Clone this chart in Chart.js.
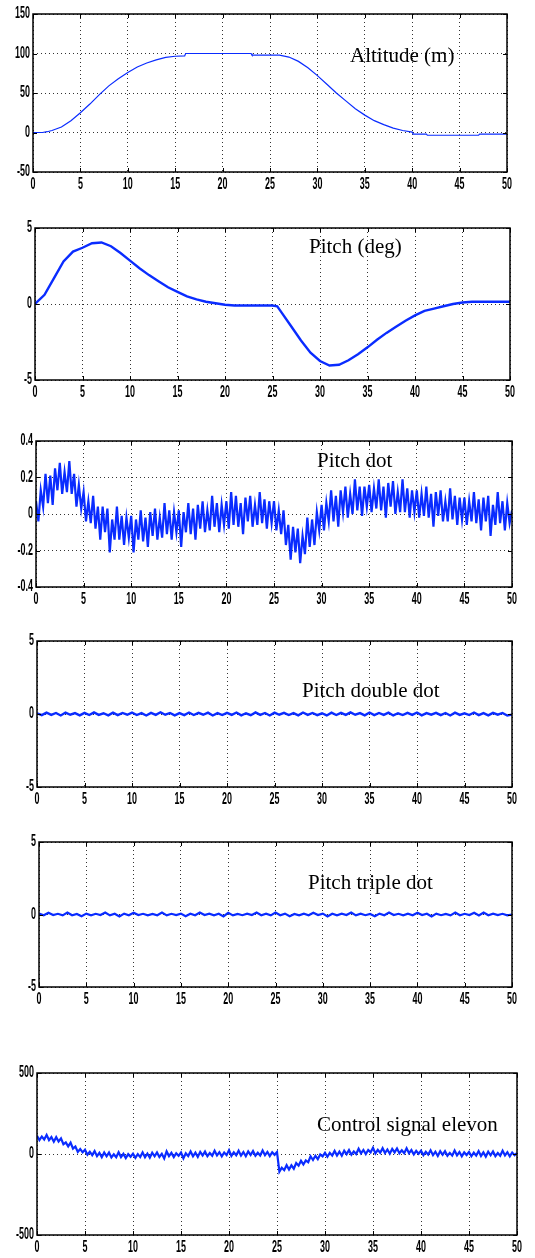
<!DOCTYPE html>
<html>
<head>
<meta charset="utf-8">
<script src="https://cdn.jsdelivr.net/npm/chart.js@4.4.1/dist/chart.umd.min.js"></script>
<style>
  html, body { margin: 0; padding: 0; background: #fff; }
  body { width: 535px; height: 1258px; position: relative; overflow: hidden; }
  canvas { position: absolute; left: 0; }
  .lbl { position: absolute; font-family: 'Liberation Serif', 'Times New Roman', serif; font-size: 21px; line-height: 24px; color: #000; white-space: nowrap; }
</style>
</head>
<body>
<canvas id="c1"></canvas>
<canvas id="c2"></canvas>
<canvas id="c3"></canvas>
<canvas id="c4"></canvas>
<canvas id="c5"></canvas>
<canvas id="c6"></canvas>
<div class="lbl" style="left:350px; top:43px;">Altitude (m)</div>
<div class="lbl" style="left:309px; top:234px;">Pitch (deg)</div>
<div class="lbl" style="left:317px; top:448px;">Pitch dot</div>
<div class="lbl" style="left:302px; top:678px;">Pitch double dot</div>
<div class="lbl" style="left:308px; top:870px;">Pitch triple dot</div>
<div class="lbl" style="left:317px; top:1112px;">Control signal elevon</div>
<script>
// --- data ---

// Altitude (m), irregular time points (s)
const altTime = [0, 1, 1.5, 2, 3, 4, 5, 6, 7, 8, 9, 10, 11, 12, 13, 14, 15, 16, 16.1, 23, 23.1, 26, 27, 28, 29, 30,
  31, 32, 33, 34, 35, 36, 37, 38, 39, 40, 40.1, 41.5, 41.6, 47, 47.1, 50];
const altitude = [0, 0, 1, 2.5, 7, 15, 25, 36, 48, 59, 68, 76, 83, 88, 92, 95, 96.5, 97, 100, 100, 98, 98, 95.5, 90, 82, 72,
  61, 50, 40, 30, 22, 15, 10, 5.5, 2.5, 0.5, -2, -2, -3.5, -3.5, -2, -2];

// Pitch (deg)
const pitchTime = [0, 1, 2, 3, 4, 5, 6, 7, 8, 9, 10, 11, 12, 13, 14, 15, 16, 17, 18, 19, 20, 21, 22, 23, 24, 25, 25.5,
  26, 27, 28, 29, 30, 31, 32, 33, 34, 35, 36, 37, 38, 39, 40, 41, 42, 43, 44, 45, 46, 47, 48, 49, 50];
const pitch = [0, 0.6, 1.7, 2.8, 3.45, 3.7, 4.0, 4.05, 3.8, 3.35, 2.85, 2.35, 1.9, 1.5, 1.1, 0.8, 0.5, 0.3, 0.15, 0.05,
  -0.05, -0.1, -0.1, -0.1, -0.1, -0.1, -0.15, -0.6, -1.5, -2.4, -3.2, -3.75, -4.05, -4.0, -3.7, -3.3, -2.85, -2.35, -1.9,
  -1.5, -1.1, -0.75, -0.45, -0.3, -0.15, 0.0, 0.1, 0.15, 0.15, 0.15, 0.15, 0.15];

// Pitch dot, sampled every 0.25 s (upper/lower swings of the noisy band)
const pitchDotStep = 0.25;
const pitchDot = [
  0.07, -0.04, 0.13, 0.04, 0.22, 0.06, 0.21, 0.05, 0.25, 0.13, 0.28, 0.11, 0.23, 0.12, 0.29, 0.11,
  0.22, 0.04, 0.16, 0.03, 0.12, -0.04, 0.07, -0.05, 0.10, -0.08, 0.04, -0.14, 0.04, -0.10, 0.03, -0.21,
  -0.03, -0.14, 0.04, -0.14, -0.01, -0.17, -0.02, -0.13, -0.01, -0.21, -0.03, -0.14, 0.02, -0.15, -0.02, -0.18,
  0.01, -0.12, 0.03, -0.14, -0.02, -0.13, 0.06, -0.11, 0.02, -0.14, 0.01, -0.10, 0.02, -0.18, 0.01, -0.10,
  0.06, -0.11, 0.03, -0.14, 0.05, -0.08, 0.07, -0.10, 0.02, -0.09, 0.10, -0.07, 0.06, -0.10, 0.05, -0.06,
  0.07, -0.08, 0.12, -0.06, 0.10, -0.07, 0.06, -0.11, 0.09, -0.04, 0.10, -0.07, 0.05, -0.06, 0.12, -0.05,
  0.08, -0.08, 0.07, -0.05, 0.07, -0.09, 0.02, -0.11, 0.02, -0.17, -0.06, -0.25, -0.07, -0.21, -0.08, -0.27,
  -0.12, -0.22, -0.02, -0.18, -0.03, -0.17, 0.01, -0.09, 0.05, -0.09, 0.06, -0.04, 0.13, -0.04, 0.10, -0.07,
  0.13, 0.01, 0.15, -0.02, 0.11, 0.00, 0.19, 0.02, 0.15, -0.01, 0.15, 0.04, 0.16, 0.01, 0.14, 0.03,
  0.19, 0.02, 0.15, -0.02, 0.17, 0.04, 0.18, 0.00, 0.12, 0.01, 0.19, 0.01, 0.14, -0.02, 0.13, 0.01,
  0.13, -0.02, 0.11, -0.01, 0.15, -0.02, 0.11, -0.07, 0.12, -0.01, 0.13, -0.04, 0.07, -0.04, 0.14, -0.03,
  0.10, -0.06, 0.09, -0.03, 0.09, -0.06, 0.07, -0.04, 0.12, -0.05, 0.08, -0.09, 0.09, -0.04, 0.10, -0.12,
  0.05, -0.06, 0.12, -0.05, 0.07, -0.09, 0.06, -0.05, 0.02
];

// Pitch double dot and triple dot, sampled every 0.5 s
const smallStep = 0.5;
const pitchDDot = [
  0.05, -0.08, 0.09, -0.06, 0.07, -0.1, 0.1, -0.05, 0.06, -0.09, 0.08, -0.07, 0.11, -0.06, 0.05, -0.09, 0.09, -0.08, 0.07, -0.05,
  0.1, -0.07, 0.06, -0.1, 0.08, -0.06, 0.12, -0.05, 0.07, -0.09, 0.06, -0.08, 0.1, -0.07, 0.08, -0.05, 0.09, -0.1, 0.06, -0.07,
  0.08, -0.06, 0.1, -0.09, 0.05, -0.08, 0.11, -0.06, 0.07, -0.1, 0.09, -0.05, 0.08, -0.07, 0.06, -0.09, 0.1, -0.06, 0.07, -0.08,
  0.05, -0.1, 0.09, -0.07, 0.08, -0.06, 0.11, -0.05, 0.06, -0.09, 0.1, -0.08, 0.07, -0.06, 0.09, -0.1, 0.05, -0.07, 0.08, -0.06,
  0.1, -0.09, 0.06, -0.05, 0.08, -0.08, 0.07, -0.1, 0.09, -0.06, 0.05, -0.07, 0.1, -0.08, 0.06, -0.09, 0.08, -0.05, 0.07, -0.1,
  -0.04
];
const pitchTDot = [
  0.06, -0.05, 0.12, -0.04, 0.05, -0.06, 0.14, -0.05, 0.04, -0.12, 0.06, -0.05, 0.05, -0.04, 0.13, -0.06, 0.05, -0.14, 0.06, -0.05,
  0.12, -0.04, 0.05, -0.06, 0.04, -0.05, 0.13, -0.06, 0.05, -0.04, 0.06, -0.12, 0.05, -0.05, 0.14, -0.04, 0.06, -0.05, 0.05, -0.13,
  0.12, -0.06, 0.04, -0.05, 0.06, -0.04, 0.13, -0.05, 0.05, -0.06, 0.14, -0.05, 0.06, -0.12, 0.04, -0.06, 0.05, -0.05, 0.12, -0.04,
  0.06, -0.13, 0.05, -0.05, 0.06, -0.04, 0.14, -0.06, 0.05, -0.05, 0.04, -0.12, 0.06, -0.05, 0.13, -0.04, 0.05, -0.06, 0.06, -0.05,
  0.12, -0.04, 0.05, -0.14, 0.06, -0.05, 0.04, -0.06, 0.13, -0.05, 0.05, -0.04, 0.12, -0.06, 0.14, -0.05, 0.06, -0.04, 0.05, -0.06,
  0.0
];

// Control signal elevon, sampled every 0.25 s
const controlStep = 0.25;
const control = [
  112, 86, 108, 90, 118, 86, 105, 76, 104, 77, 96, 60, 72, 47, 70, 33, 46, 13, 31, 10,
  26, -4, 14, -7, 18, -13, 7, -20, 9, -14, 9, -21, -2, -20, 11, -19, 1, -25, -1, -17,
  2, -24, -1, -19, 10, -20, 3, -23, 8, -14, 10, -18, 1, -28, 16, -13, 7, -19, 5, -11,
  9, -26, 5, -13, 16, -14, 8, -18, 13, -9, 15, -14, 6, -11, 20, -9, 11, -15, 9, -7,
  24, -12, 10, -8, 20, -10, 12, -14, 16, -6, 18, -11, 8, -9, 22, -7, 13, -13, 11, -5,
  12, -109, -85, -100, -69, -96, -70, -91, -56, -72, -42, -65, -40, -51, -14, -37, -11, -32, -3, -15,
  7, -17, 7, -10, 19, -10, 14, -11, 20, -1, 24, -4, 16, 0, 32, 4, 25, 0, 25, 10,
  38, 4, 26, 8, 36, 6, 28, 2, 32, 10, 34, 5, 23, 5, 35, 5, 24, -3, 19, 2,
  20, -7, 14, -4, 23, -7, 14, -12, 17, -5, 18, -11, 7, -10, 21, -8, 12, -14, 10, -6,
  12, -14, 8, -10, 18, -12, 10, -16, 14, -8, 16, -13, 6, -11, 20, -9, 11, -15, 9, -7,
  5
];

// axis ranges and ticks
const xTickStep = 5;
const altTicks = { min: -50, max: 150, step: 50 };
const pitchTicks = { min: -5, max: 5, step: 5 };
const pitchDotTicks = { min: -0.4, max: 0.4, step: 0.2 };
const ddotTicks = { min: -5, max: 5, step: 5 };
const tdotTicks = { min: -5, max: 5, step: 5 };
const controlTicks = { min: -500, max: 500, step: 500 };

// --- helpers ---
const pairs = (times, values) => values.map((v, i) => ({ x: times[i], y: v }));
const sampled = (step, values) => values.map((v, i) => ({ x: i * step, y: v }));

// narrow tick labels (squeezed horizontally like the old MATLAB bitmap font)
const tickFont = 'bold 16px "Liberation Sans", Arial, sans-serif';
const squeeze = 0.56;

// black box, small inward tick marks and the tick labels
const framePlugin = {
  id: 'frame',
  afterDraw(chart) {
    const { ctx, chartArea: a, scales } = chart;
    ctx.save();
    ctx.strokeStyle = '#000';
    ctx.lineWidth = 1;
    scales.x.ticks.forEach(t => {
      const px = Math.round(scales.x.getPixelForValue(t.value)) + 0.5;
      ctx.beginPath();
      ctx.moveTo(px, a.bottom); ctx.lineTo(px, a.bottom - 4);
      ctx.moveTo(px, a.top); ctx.lineTo(px, a.top + 4);
      ctx.stroke();
    });
    scales.y.ticks.forEach(t => {
      const py = Math.round(scales.y.getPixelForValue(t.value)) + 0.5;
      ctx.beginPath();
      ctx.moveTo(a.left, py); ctx.lineTo(a.left + 4, py);
      ctx.moveTo(a.right, py); ctx.lineTo(a.right - 4, py);
      ctx.stroke();
    });
    ctx.lineWidth = 1.5;
    ctx.strokeRect(a.left, a.top, a.right - a.left, a.bottom - a.top);

    ctx.fillStyle = '#000';
    ctx.font = tickFont;
    ctx.textAlign = 'center';
    ctx.textBaseline = 'alphabetic';
    scales.x.ticks.forEach(t => {
      ctx.save();
      ctx.translate(scales.x.getPixelForValue(t.value), a.bottom + 17);
      ctx.scale(squeeze, 1);
      ctx.fillText(t.label, 0, 0);
      ctx.restore();
    });
    ctx.textAlign = 'right';
    ctx.textBaseline = 'middle';
    scales.y.ticks.forEach(t => {
      ctx.save();
      ctx.translate(a.left - 3, scales.y.getPixelForValue(t.value));
      ctx.scale(squeeze, 1);
      ctx.fillText(t.label, 0, 0);
      ctx.restore();
    });
    ctx.restore();
  }
};

// plot area boxes in page pixels: [left, top, right, bottom]
const panels = [
  { id: 'c1', box: [33, 14, 507, 172], data: pairs(altTime, altitude), ticks: altTicks, width: 1.2 },
  { id: 'c2', box: [35, 228, 510, 380], data: pairs(pitchTime, pitch), ticks: pitchTicks, width: 2.4 },
  { id: 'c3', box: [36, 441, 512, 587], data: sampled(pitchDotStep, pitchDot), ticks: pitchDotTicks, width: 2.2 },
  { id: 'c4', box: [37, 641, 512, 787], data: sampled(smallStep, pitchDDot), ticks: ddotTicks, width: 2.4 },
  { id: 'c5', box: [39, 842, 512, 987], data: sampled(smallStep, pitchTDot), ticks: tdotTicks, width: 2.2 },
  { id: 'c6', box: [37, 1073, 517, 1235], data: sampled(controlStep, control), ticks: controlTicks, width: 2.2 }
];

const padTop = 10;
const xAxisHeight = 24;

panels.forEach(p => {
  const [left, top, right, bottom] = p.box;
  const canvas = document.getElementById(p.id);
  canvas.width = 535;
  canvas.height = bottom - top + padTop + xAxisHeight;
  canvas.style.top = (top - padTop) + 'px';

  new Chart(canvas, {
    type: 'line',
    data: {
      datasets: [{
        data: p.data,
        borderColor: '#0a2cff',
        borderWidth: p.width,
        pointRadius: 0,
        tension: 0,
        fill: false
      }]
    },
    plugins: [framePlugin],
    options: {
      responsive: false,
      animation: false,
      devicePixelRatio: 1,
      layout: { padding: { top: padTop, left: 0, right: 535 - right, bottom: 0 } },
      plugins: { legend: { display: false }, tooltip: { enabled: false } },
      scales: {
        x: {
          type: 'linear',
          min: 0,
          max: 50,
          ticks: { stepSize: xTickStep, autoSkip: false, maxRotation: 0, display: false },
          grid: { color: '#333', lineWidth: 1, drawTicks: false },
          border: { display: false, dash: [1, 3] },
          afterFit(scale) { scale.height = xAxisHeight; scale.paddingLeft = 0; scale.paddingRight = 0; }
        },
        y: {
          min: p.ticks.min,
          max: p.ticks.max,
          ticks: { stepSize: p.ticks.step, autoSkip: false, display: false },
          grid: { color: '#333', lineWidth: 1, drawTicks: false },
          border: { display: false, dash: [1, 3] },
          afterFit(scale) { scale.width = left; scale.paddingTop = 0; scale.paddingBottom = 0; }
        }
      }
    }
  });
});
</script>
</body>
</html>
